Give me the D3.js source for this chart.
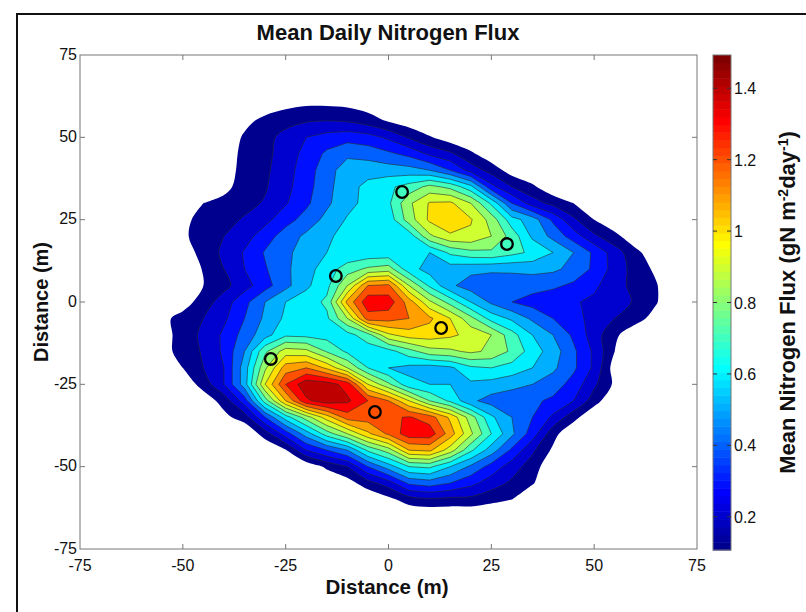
<!DOCTYPE html>
<html>
<head>
<meta charset="utf-8">
<script src="https://cdn.jsdelivr.net/npm/d3@7"></script>
<style>
  body { margin: 0; background: #fff; }
  text { font-family: "Liberation Sans", Arial, sans-serif; fill: #111; }
</style>
</head>
<body>
<div id="chart"></div>
<script>
// grid of estimated flux values (gN m-2 day-1), 5 m spacing
const gridX = [-60,-55,-50,-45,-40,-35,-30,-25,-20,-15,-10,-5,0,5,10,15,20,25,30,35,40,45,50,55,60,65,70];
const gridY = [65,60,55,50,45,40,35,30,25,20,15,10,5,0,-5,-10,-15,-20,-25,-30,-35,-40,-45,-50,-55,-60,-65,-70];
const flux = [
  [0,0,0,0,0,0,0,0,0,0,0,0,0,0,0,0,0,0,0,0,0,0,0,0,0,0,0],
  [0,0,0,0,0,0,.02,.07,.09,.09,.08,.05,.02,0,0,0,0,0,0,0,0,0,0,0,0,0,0],
  [0,0,0,0,0,.06,.14,.17,.19,.20,.19,.15,.09,.04,0,0,0,0,0,0,0,0,0,0,0,0,0],
  [0,0,0,0,0,.12,.17,.23,.30,.34,.36,.34,.28,.19,.11,.04,0,0,0,0,0,0,0,0,0,0,0],
  [0,0,0,0,.02,.14,.17,.25,.33,.42,.48,.46,.42,.37,.28,.22,.12,.03,0,0,0,0,0,0,0,0,0],
  [0,0,0,0,.03,.15,.18,.26,.35,.46,.55,.56,.55,.54,.50,.40,.26,.16,.05,0,0,0,0,0,0,0,0],
  [0,0,0,0,.06,.16,.19,.27,.36,.47,.56,.63,.68,.74,.83,.77,.63,.33,.20,.12,.02,0,0,0,0,0,0],
  [0,0,0,.10,.14,.17,.21,.29,.38,.48,.57,.63,.68,.88,1.01,1.02,.90,.68,.40,.25,.17,.10,.02,0,0,0,0],
  [0,0,.07,.14,.17,.21,.27,.36,.44,.53,.61,.63,.64,.85,1.02,1.09,1.01,.86,.64,.55,.38,.22,.10,.02,0,0,0],
  [0,0,.08,.15,.20,.26,.35,.45,.52,.59,.62,.63,.63,.64,.88,.98,.98,.90,.76,.58,.47,.35,.22,.13,.03,0,0],
  [0,0,.04,.14,.22,.31,.41,.48,.54,.60,.62,.63,.63,.62,.60,.72,.77,.78,.73,.68,.60,.50,.38,.25,.13,.03,0],
  [0,0,0,.11,.20,.30,.39,.48,.56,.65,.75,.82,.85,.64,.56,.55,.53,.52,.52,.53,.52,.47,.38,.26,.16,.08,0],
  [0,0,0,.10,.17,.26,.36,.47,.58,.67,.90,1.20,1.22,.90,.68,.52,.45,.43,.44,.44,.42,.38,.32,.24,.17,.11,0],
  [0,.03,.05,.15,.25,.37,.50,.60,.65,.72,1.13,1.37,1.36,1.15,.92,.76,.60,.48,.40,.36,.33,.31,.28,.24,.19,.11,0],
  [0,.07,.14,.20,.28,.40,.52,.62,.66,.68,.90,1.25,1.24,1.20,1.12,1.00,.83,.66,.58,.48,.40,.33,.27,.20,.14,.06,0],
  [0,.05,.15,.22,.32,.44,.56,.68,.67,.66,.66,.76,.98,1.05,1.05,1.02,.97,.90,.74,.60,.50,.38,.25,.12,.03,0,0],
  [0,.05,.15,.21,.32,.50,.78,.95,.93,.79,.68,.64,.66,.76,.86,.88,.92,.88,.78,.65,.55,.42,.28,.10,0,0,0],
  [0,0,.10,.20,.30,.55,.88,1.15,1.20,1.08,.90,.70,.60,.57,.55,.58,.68,.70,.66,.60,.52,.42,.28,.05,0,0,0],
  [0,0,.03,.14,.30,.55,1.00,1.30,1.47,1.45,1.36,1.00,.82,.63,.60,.60,.58,.56,.53,.50,.45,.36,.22,.08,0,0,0],
  [0,0,0,.04,.14,.35,.75,1.10,1.38,1.46,1.42,1.30,1.20,1.00,.80,.68,.52,.46,.44,.42,.38,.30,.15,0,0,0,0],
  [0,0,0,0,.07,.15,.40,.65,.85,1.05,1.25,1.25,1.28,1.31,1.25,1.08,.85,.62,.50,.40,.28,.14,0,0,0,0,0],
  [0,0,0,0,0,0,.15,.35,.55,.75,.90,1.08,1.22,1.36,1.36,1.15,.92,.70,.52,.35,.14,0,0,0,0,0,0],
  [0,0,0,0,0,0,0,.09,.30,.40,.50,.72,.85,1.10,1.12,.95,.72,.55,.38,.22,.08,0,0,0,0,0,0],
  [0,0,0,0,0,0,0,0,.02,.12,.20,.40,.55,.70,.72,.60,.48,.36,.25,.15,.02,0,0,0,0,0,0],
  [0,0,0,0,0,0,0,0,0,0,.05,.16,.25,.42,.45,.40,.33,.25,.18,.11,0,0,0,0,0,0,0],
  [0,0,0,0,0,0,0,0,0,0,0,0,.07,.15,.18,.17,.17,.13,.10,0,0,0,0,0,0,0,0],
  [0,0,0,0,0,0,0,0,0,0,0,0,0,0,0,0,0,0,0,0,0,0,0,0,0,0,0],
  [0,0,0,0,0,0,0,0,0,0,0,0,0,0,0,0,0,0,0,0,0,0,0,0,0,0,0]
];
const levels = [0.1,0.2,0.3,0.4,0.5,0.6,0.7,0.8,0.9,1.0,1.1,1.2,1.3,1.4];
const cRange = [0.107, 1.493];

// sampling chambers
const chamberX = [3.3, 28.8, -12.8, 12.8, -28.6, -3.3];
const chamberY = [33.4, 17.6, 7.9, -7.9, -17.3, -33.4];

const axisTicks = [-75,-50,-25,0,25,50,75];
const barTicks = [0.2,0.4,0.6,0.8,1.0,1.2,1.4];

// matlab jet, 64 entries
function jet64(k) {
  const n = 16, u = [];
  for (let i = 1; i <= n; i++) u.push(i / n);
  for (let i = 1; i < n; i++) u.push(1);
  for (let i = n; i >= 1; i--) u.push(i / n);
  let r = 0, g = 0, b = 0;
  const gi = k - 8, ri = k - 24, bi = k + 8;
  if (gi >= 1 && gi <= u.length) g = u[gi - 1];
  if (ri >= 1 && ri <= u.length) r = u[ri - 1];
  if (k <= 39) b = u[bi - 1];
  return d3.rgb(r * 255, g * 255, b * 255).formatHex();
}
function levelColor(v) {
  let k = Math.floor((v - cRange[0]) / (cRange[1] - cRange[0]) * 64) + 1;
  k = Math.max(1, Math.min(64, k));
  return jet64(k);
}

const width = 806, height = 612;
const box = {left: 80, right: 697, top: 55, bottom: 549};

const svg = d3.select("#chart").append("svg")
  .attr("width", width).attr("height", height);

// figure frame
svg.append("rect")
  .attr("x", 17).attr("y", 14).attr("width", 800).attr("height", 610)
  .attr("fill", "none").attr("stroke", "#111").attr("stroke-width", 2);

const x = d3.scaleLinear().domain([-75, 75]).range([box.left, box.right]);
const y = d3.scaleLinear().domain([-75, 75]).range([box.bottom, box.top]);

const nx = gridX.length, ny = gridY.length;
const gx = d3.scaleLinear().domain([0.5, nx - 0.5]).range([x(gridX[0]), x(gridX[nx - 1])]);
const gy = d3.scaleLinear().domain([0.5, ny - 0.5]).range([y(gridY[0]), y(gridY[ny - 1])]);
const path = d3.geoPath(d3.geoTransform({
  point: function(px, py) { this.stream.point(gx(px), gy(py)); }
}));
// the outer levels are drawn with a smooth curve through the contour vertices
const smoothRing = d3.line()
  .x(p => gx(p[0])).y(p => gy(p[1]))
  .curve(d3.curveCatmullRomClosed.alpha(0.5));
function bandPath(d) {
  if (d.value > 0.25) return path(d);
  return d.coordinates.map(poly => poly.map(ring => smoothRing(ring.slice(0, -1))).join("")).join("");
}

const contours = d3.contours().size([nx, ny]).thresholds(levels)(flux.flat());

svg.append("clipPath").attr("id", "plotclip")
  .append("rect").attr("x", box.left).attr("y", box.top)
  .attr("width", box.right - box.left).attr("height", box.bottom - box.top);

const plot = svg.append("g").attr("clip-path", "url(#plotclip)");

plot.selectAll("path.band")
  .data(contours)
  .join("path")
    .attr("class", "band")
    .attr("d", bandPath)
    .attr("fill-rule", "evenodd")
    .attr("fill", d => levelColor(d.value))
    .attr("stroke", d => d.value > 0.15 ? "#2a2a2a" : "none")
    .attr("stroke-opacity", 0.85)
    .attr("stroke-width", 0.7)
    .attr("stroke-linejoin", "round");

plot.selectAll("circle.chamber")
  .data(chamberX)
  .join("circle")
    .attr("class", "chamber")
    .attr("cx", d => x(d))
    .attr("cy", (d, i) => y(chamberY[i]))
    .attr("r", 5.8)
    .attr("fill", "none")
    .attr("stroke", "#000")
    .attr("stroke-width", 2.3);

// axes box and inward ticks
const tickCol = "#777";
svg.append("rect")
  .attr("x", box.left).attr("y", box.top)
  .attr("width", box.right - box.left).attr("height", box.bottom - box.top)
  .attr("fill", "none").attr("stroke", tickCol).attr("stroke-width", 1);

const tl = 5;
svg.append("g").selectAll("line")
  .data(axisTicks.slice(1, -1))
  .join("line")
    .attr("x1", d => x(d)).attr("x2", d => x(d))
    .attr("y1", box.bottom).attr("y2", box.bottom - tl)
    .attr("stroke", tickCol);
svg.append("g").selectAll("line")
  .data(axisTicks.slice(1, -1))
  .join("line")
    .attr("x1", d => x(d)).attr("x2", d => x(d))
    .attr("y1", box.top).attr("y2", box.top + tl)
    .attr("stroke", tickCol);
svg.append("g").selectAll("line")
  .data(axisTicks.slice(1, -1))
  .join("line")
    .attr("y1", d => y(d)).attr("y2", d => y(d))
    .attr("x1", box.left).attr("x2", box.left + tl)
    .attr("stroke", tickCol);
svg.append("g").selectAll("line")
  .data(axisTicks.slice(1, -1))
  .join("line")
    .attr("y1", d => y(d)).attr("y2", d => y(d))
    .attr("x1", box.right).attr("x2", box.right - tl)
    .attr("stroke", tickCol);

svg.append("g").selectAll("text")
  .data(axisTicks)
  .join("text")
    .attr("x", d => x(d))
    .attr("y", box.bottom + 22)
    .attr("text-anchor", "middle")
    .attr("font-size", 16)
    .text(d => d);
svg.append("g").selectAll("text")
  .data(axisTicks)
  .join("text")
    .attr("x", box.left - 3)
    .attr("y", d => y(d) + 4.5)
    .attr("text-anchor", "end")
    .attr("font-size", 16)
    .text(d => d);

// titles
svg.append("text")
  .attr("x", 388).attr("y", 40)
  .attr("text-anchor", "middle")
  .attr("font-size", 22).attr("font-weight", "bold")
  .text("Mean Daily Nitrogen Flux");
svg.append("text")
  .attr("x", 387).attr("y", 594)
  .attr("text-anchor", "middle")
  .attr("font-size", 20.5).attr("font-weight", "bold")
  .text("Distance (m)");
svg.append("text")
  .attr("transform", `translate(48,${(box.top + box.bottom) / 2}) rotate(-90)`)
  .attr("text-anchor", "middle")
  .attr("font-size", 20).attr("font-weight", "bold")
  .text("Distance (m)");

// colorbar
const bar = {left: 713, right: 731, top: 55, bottom: 550};
const cy = d3.scaleLinear().domain(cRange).range([bar.bottom, bar.top]);
const steps = d3.range(64);
svg.append("g").selectAll("rect")
  .data(steps)
  .join("rect")
    .attr("x", bar.left)
    .attr("width", bar.right - bar.left)
    .attr("y", d => cy(cRange[0] + (d + 1) * (cRange[1] - cRange[0]) / 64))
    .attr("height", (bar.bottom - bar.top) / 64 + 0.5)
    .attr("fill", d => jet64(d + 1));
svg.append("rect")
  .attr("x", bar.left).attr("y", bar.top)
  .attr("width", bar.right - bar.left).attr("height", bar.bottom - bar.top)
  .attr("fill", "none").attr("stroke", tickCol);
svg.append("g").selectAll("line")
  .data(barTicks)
  .join("line")
    .attr("x1", bar.right - 4).attr("x2", bar.right)
    .attr("y1", d => cy(d)).attr("y2", d => cy(d))
    .attr("stroke", "#333");
svg.append("g").selectAll("line")
  .data(barTicks)
  .join("line")
    .attr("x1", bar.left).attr("x2", bar.left + 4)
    .attr("y1", d => cy(d)).attr("y2", d => cy(d))
    .attr("stroke", "#333");
svg.append("g").selectAll("text")
  .data(barTicks)
  .join("text")
    .attr("x", bar.right + 3)
    .attr("y", d => cy(d) + 6)
    .attr("font-size", 16)
    .text(d => d3.format("~g")(d));

const cLabel = svg.append("text")
  .attr("transform", `translate(795,${(bar.top + bar.bottom) / 2}) rotate(-90)`)
  .attr("text-anchor", "middle")
  .attr("font-size", 22).attr("font-weight", "bold");
cLabel.append("tspan").text("Mean Nitrogen Flux (gN m");
cLabel.append("tspan").attr("dy", -7).attr("font-size", 14).text("-2");
cLabel.append("tspan").attr("dy", 7).text("day");
cLabel.append("tspan").attr("dy", -7).attr("font-size", 14).text("-1");
cLabel.append("tspan").attr("dy", 7).text(")");
</script>
</body>
</html>
